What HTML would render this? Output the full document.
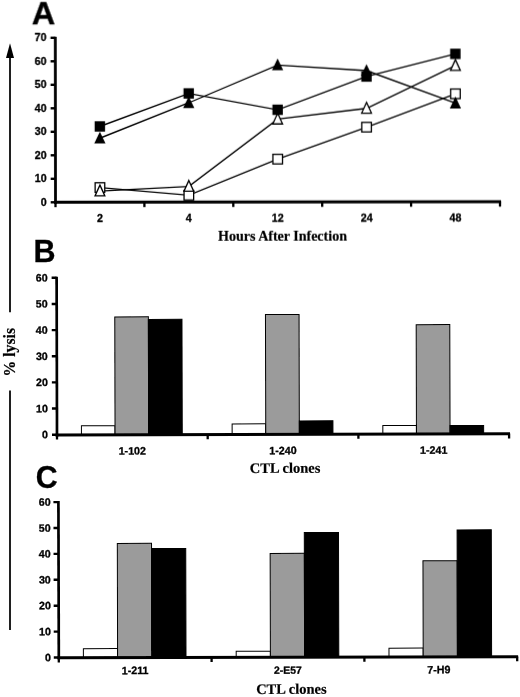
<!DOCTYPE html>
<html><head><meta charset="utf-8"><title>Figure</title>
<style>html,body{margin:0;padding:0;background:#fff;}body{width:520px;height:697px;overflow:hidden;}svg{display:block;}.s{font-family:"Liberation Sans",sans-serif;font-weight:bold;fill:#000;stroke:#000;stroke-width:0.3px;}.t{font-family:"Liberation Serif",serif;font-weight:bold;fill:#000;stroke:#000;stroke-width:0.2px;}</style></head><body>
<svg width="520" height="697" viewBox="0 0 520 697">
<defs><filter id="b" x="0" y="0" width="100%" height="100%" filterUnits="userSpaceOnUse"><feGaussianBlur stdDeviation="0.35"/></filter></defs>
<rect width="520" height="697" fill="#fff"/>
<g filter="url(#b)">
<g stroke="#000" stroke-width="1.75" fill="none"><line x1="10" y1="56" x2="10" y2="312.3"/><line x1="10" y1="390.5" x2="10" y2="630"/></g>
<polygon points="10,43.3 14,58 6,58" fill="#000"/>
<text class="t" font-size="16.1" text-anchor="middle" transform="translate(14.5,352.2) rotate(-90) scale(0.975,1)">% lysis</text>
<g transform="rotate(-0.07 55.5 202.3)">
<text class="s" font-size="31" transform="translate(32,24.2) scale(1.05,1)">A</text>
<line x1="55.5" y1="36.8" x2="55.5" y2="203.8" stroke="#000" stroke-width="2.8"/><line x1="54.1" y1="202.3" x2="501.1" y2="202.3" stroke="#000" stroke-width="3"/>
<g stroke="#000" stroke-width="2.4"><line x1="50.7" y1="202.3" x2="55.5" y2="202.3"/><line x1="50.7" y1="178.8" x2="55.5" y2="178.8"/><line x1="50.7" y1="155.3" x2="55.5" y2="155.3"/><line x1="50.7" y1="131.8" x2="55.5" y2="131.8"/><line x1="50.7" y1="108.3" x2="55.5" y2="108.3"/><line x1="50.7" y1="84.8" x2="55.5" y2="84.8"/><line x1="50.7" y1="61.3" x2="55.5" y2="61.3"/><line x1="50.7" y1="37.8" x2="55.5" y2="37.8"/></g>
<text class="s" font-size="10.7" text-anchor="end" x="46.7" y="205.9">0</text>
<text class="s" font-size="10.7" text-anchor="end" x="46.7" y="182.4">10</text>
<text class="s" font-size="10.7" text-anchor="end" x="46.7" y="158.9">20</text>
<text class="s" font-size="10.7" text-anchor="end" x="46.7" y="135.4">30</text>
<text class="s" font-size="10.7" text-anchor="end" x="46.7" y="111.9">40</text>
<text class="s" font-size="10.7" text-anchor="end" x="46.7" y="88.4">50</text>
<text class="s" font-size="10.7" text-anchor="end" x="46.7" y="64.9">60</text>
<text class="s" font-size="10.7" text-anchor="end" x="46.7" y="41.4">70</text>
<g stroke="#000" stroke-width="2.3"><line x1="55.5" y1="202.3" x2="55.5" y2="207.2"/><line x1="144.4" y1="202.3" x2="144.4" y2="207.2"/><line x1="233.3" y1="202.3" x2="233.3" y2="207.2"/><line x1="322.2" y1="202.3" x2="322.2" y2="207.2"/><line x1="411.1" y1="202.3" x2="411.1" y2="207.2"/><line x1="500" y1="202.3" x2="500" y2="207.2"/></g>
<text class="s" font-size="10.7" text-anchor="middle" x="99.95" y="221.8">2</text>
<text class="s" font-size="10.7" text-anchor="middle" x="188.85" y="221.8">4</text>
<text class="s" font-size="10.7" text-anchor="middle" x="277.75" y="221.8">12</text>
<text class="s" font-size="10.7" text-anchor="middle" x="366.65" y="221.8">24</text>
<text class="s" font-size="10.7" text-anchor="middle" x="455.55" y="221.8">48</text>
<text class="t" font-size="14" text-anchor="middle" x="282.5" y="240.9">Hours After Infection</text>
<polyline points="99.95,187.6 188.85,195.36 277.75,159.4 366.65,127.56 455.55,94.31" fill="none" stroke="#000" stroke-width="1.35"/>
<polyline points="99.95,191.13 188.85,186.66 277.75,119.45 366.65,108.76 455.55,66.11" fill="none" stroke="#000" stroke-width="1.35"/>
<polyline points="99.95,138.25 188.85,103 277.75,65.4 366.65,71.04 455.55,103.71" fill="none" stroke="#000" stroke-width="1.35"/>
<polyline points="99.95,126.5 188.85,93.6 277.75,110.05 366.65,76.92 455.55,54.36" fill="none" stroke="#000" stroke-width="1.35"/>
<rect x="95.15" y="182.8" width="9.6" height="9.6" fill="#fff" stroke="#000" stroke-width="1.3"/>
<rect x="184.05" y="190.56" width="9.6" height="9.6" fill="#fff" stroke="#000" stroke-width="1.3"/>
<rect x="272.95" y="154.6" width="9.6" height="9.6" fill="#fff" stroke="#000" stroke-width="1.3"/>
<rect x="361.85" y="122.76" width="9.6" height="9.6" fill="#fff" stroke="#000" stroke-width="1.3"/>
<rect x="450.75" y="89.51" width="9.6" height="9.6" fill="#fff" stroke="#000" stroke-width="1.3"/>
<polygon points="99.95,185.13 104.85,195.93 95.05,195.93" fill="#fff" stroke="#000" stroke-width="1.3" stroke-linejoin="miter"/>
<polygon points="188.85,180.66 193.75,191.46 183.95,191.46" fill="#fff" stroke="#000" stroke-width="1.3" stroke-linejoin="miter"/>
<polygon points="277.75,113.45 282.65,124.25 272.85,124.25" fill="#fff" stroke="#000" stroke-width="1.3" stroke-linejoin="miter"/>
<polygon points="366.65,102.76 371.55,113.56 361.75,113.56" fill="#fff" stroke="#000" stroke-width="1.3" stroke-linejoin="miter"/>
<polygon points="455.55,60.11 460.45,70.91 450.65,70.91" fill="#fff" stroke="#000" stroke-width="1.3" stroke-linejoin="miter"/>
<polygon points="99.95,131.65 105.55,143.45 94.35,143.45" fill="#000"/>
<polygon points="188.85,96.4 194.45,108.2 183.25,108.2" fill="#000"/>
<polygon points="277.75,58.8 283.35,70.6 272.15,70.6" fill="#000"/>
<polygon points="366.65,64.44 372.25,76.24 361.05,76.24" fill="#000"/>
<polygon points="455.55,97.11 461.15,108.91 449.95,108.91" fill="#000"/>
<rect x="94.75" y="121.3" width="10.4" height="10.4" fill="#000"/>
<rect x="183.65" y="88.4" width="10.4" height="10.4" fill="#000"/>
<rect x="272.55" y="104.85" width="10.4" height="10.4" fill="#000"/>
<rect x="361.45" y="71.72" width="10.4" height="10.4" fill="#000"/>
<rect x="450.35" y="49.16" width="10.4" height="10.4" fill="#000"/>
</g>
<text class="s" font-size="31" transform="translate(33.4,261.9) scale(0.985,1)">B</text>
<g transform="rotate(-0.14 57.0 434.7)">
<rect x="81.45" y="425.81" width="33.6" height="8.89" fill="#fff" stroke="#000" stroke-width="1"/>
<rect x="115.05" y="317.02" width="33.6" height="117.68" fill="#9b9b9b" stroke="#000" stroke-width="1"/>
<rect x="148.65" y="319.64" width="33.6" height="115.06" fill="#000" stroke="#000" stroke-width="1"/>
<rect x="232.15" y="424.37" width="33.6" height="10.33" fill="#fff" stroke="#000" stroke-width="1"/>
<rect x="265.75" y="315.06" width="33.6" height="119.64" fill="#9b9b9b" stroke="#000" stroke-width="1"/>
<rect x="299.35" y="421.49" width="33.6" height="13.21" fill="#000" stroke="#000" stroke-width="1"/>
<rect x="382.85" y="426.33" width="33.6" height="8.37" fill="#fff" stroke="#000" stroke-width="1"/>
<rect x="416.45" y="325.52" width="33.6" height="109.18" fill="#9b9b9b" stroke="#000" stroke-width="1"/>
<rect x="450.05" y="426.46" width="33.6" height="8.24" fill="#000" stroke="#000" stroke-width="1"/>
<line x1="57.0" y1="276.8" x2="57.0" y2="436.4" stroke="#000" stroke-width="2.7"/><line x1="55.7" y1="434.95" x2="510" y2="434.95" stroke="#000" stroke-width="3"/>
<g stroke="#000" stroke-width="2.4"><line x1="52.0" y1="434.7" x2="57.0" y2="434.7"/><line x1="52.0" y1="408.55" x2="57.0" y2="408.55"/><line x1="52.0" y1="382.4" x2="57.0" y2="382.4"/><line x1="52.0" y1="356.25" x2="57.0" y2="356.25"/><line x1="52.0" y1="330.1" x2="57.0" y2="330.1"/><line x1="52.0" y1="303.95" x2="57.0" y2="303.95"/><line x1="52.0" y1="277.8" x2="57.0" y2="277.8"/></g>
<text class="s" font-size="10.7" text-anchor="end" x="48" y="438.3">0</text>
<text class="s" font-size="10.7" text-anchor="end" x="48" y="412.15">10</text>
<text class="s" font-size="10.7" text-anchor="end" x="48" y="386">20</text>
<text class="s" font-size="10.7" text-anchor="end" x="48" y="359.85">30</text>
<text class="s" font-size="10.7" text-anchor="end" x="48" y="333.7">40</text>
<text class="s" font-size="10.7" text-anchor="end" x="48" y="307.55">50</text>
<text class="s" font-size="10.7" text-anchor="end" x="48" y="281.4">60</text>
<g stroke="#000" stroke-width="2.3"><line x1="57" y1="434.7" x2="57" y2="439.6"/><line x1="207.7" y1="434.7" x2="207.7" y2="439.6"/><line x1="358.4" y1="434.7" x2="358.4" y2="439.6"/><line x1="509.1" y1="434.7" x2="509.1" y2="439.6"/></g>
<text class="s" font-size="10.7" text-anchor="middle" x="132.25" y="454.7">1-102</text>
<text class="s" font-size="10.7" text-anchor="middle" x="282.95" y="454.7">1-240</text>
<text class="s" font-size="10.7" text-anchor="middle" x="433.65" y="454.7">1-241</text>
<text class="t" font-size="14.5" text-anchor="middle" x="285" y="473.4">CTL clones</text>
</g>
<text class="s" font-size="30.6" transform="translate(35.8,488.2) scale(0.99,1)">C</text>
<g transform="rotate(-0.14 58.8 657.5)">
<rect x="83.4" y="648.69" width="34.2" height="8.81" fill="#fff" stroke="#000" stroke-width="1"/>
<rect x="117.6" y="543.54" width="34.2" height="113.96" fill="#9b9b9b" stroke="#000" stroke-width="1"/>
<rect x="151.8" y="548.72" width="34.2" height="108.78" fill="#000" stroke="#000" stroke-width="1"/>
<rect x="236.2" y="651.8" width="34.2" height="5.7" fill="#fff" stroke="#000" stroke-width="1"/>
<rect x="270.4" y="553.9" width="34.2" height="103.6" fill="#9b9b9b" stroke="#000" stroke-width="1"/>
<rect x="304.6" y="533.18" width="34.2" height="124.32" fill="#000" stroke="#000" stroke-width="1"/>
<rect x="389" y="648.95" width="34.2" height="8.55" fill="#fff" stroke="#000" stroke-width="1"/>
<rect x="423.2" y="561.67" width="34.2" height="95.83" fill="#9b9b9b" stroke="#000" stroke-width="1"/>
<rect x="457.4" y="530.85" width="34.2" height="126.65" fill="#000" stroke="#000" stroke-width="1"/>
<line x1="58.8" y1="501.1" x2="58.8" y2="659.2" stroke="#000" stroke-width="2.7"/><line x1="57.5" y1="657.75" x2="518.1" y2="657.75" stroke="#000" stroke-width="3"/>
<g stroke="#000" stroke-width="2.4"><line x1="53.8" y1="657.5" x2="58.8" y2="657.5"/><line x1="53.8" y1="631.6" x2="58.8" y2="631.6"/><line x1="53.8" y1="605.7" x2="58.8" y2="605.7"/><line x1="53.8" y1="579.8" x2="58.8" y2="579.8"/><line x1="53.8" y1="553.9" x2="58.8" y2="553.9"/><line x1="53.8" y1="528" x2="58.8" y2="528"/><line x1="53.8" y1="502.1" x2="58.8" y2="502.1"/></g>
<text class="s" font-size="10.7" text-anchor="end" x="51" y="661.1">0</text>
<text class="s" font-size="10.7" text-anchor="end" x="51" y="635.2">10</text>
<text class="s" font-size="10.7" text-anchor="end" x="51" y="609.3">20</text>
<text class="s" font-size="10.7" text-anchor="end" x="51" y="583.4">30</text>
<text class="s" font-size="10.7" text-anchor="end" x="51" y="557.5">40</text>
<text class="s" font-size="10.7" text-anchor="end" x="51" y="531.6">50</text>
<text class="s" font-size="10.7" text-anchor="end" x="51" y="505.7">60</text>
<g stroke="#000" stroke-width="2.3"><line x1="58.8" y1="657.5" x2="58.8" y2="662.4"/><line x1="211.6" y1="657.5" x2="211.6" y2="662.4"/><line x1="364.4" y1="657.5" x2="364.4" y2="662.4"/><line x1="517.2" y1="657.5" x2="517.2" y2="662.4"/></g>
<text class="s" font-size="10.7" text-anchor="middle" x="135.1" y="674.3">1-211</text>
<text class="s" font-size="10.4" text-anchor="middle" x="287.9" y="674.3">2-E57</text>
<text class="s" font-size="10.7" text-anchor="middle" x="438.9" y="674.3">7-H9</text>
<text class="t" font-size="14.5" text-anchor="middle" x="291.3" y="694.4">CTL clones</text>
</g>
</g>
</svg></body></html>
